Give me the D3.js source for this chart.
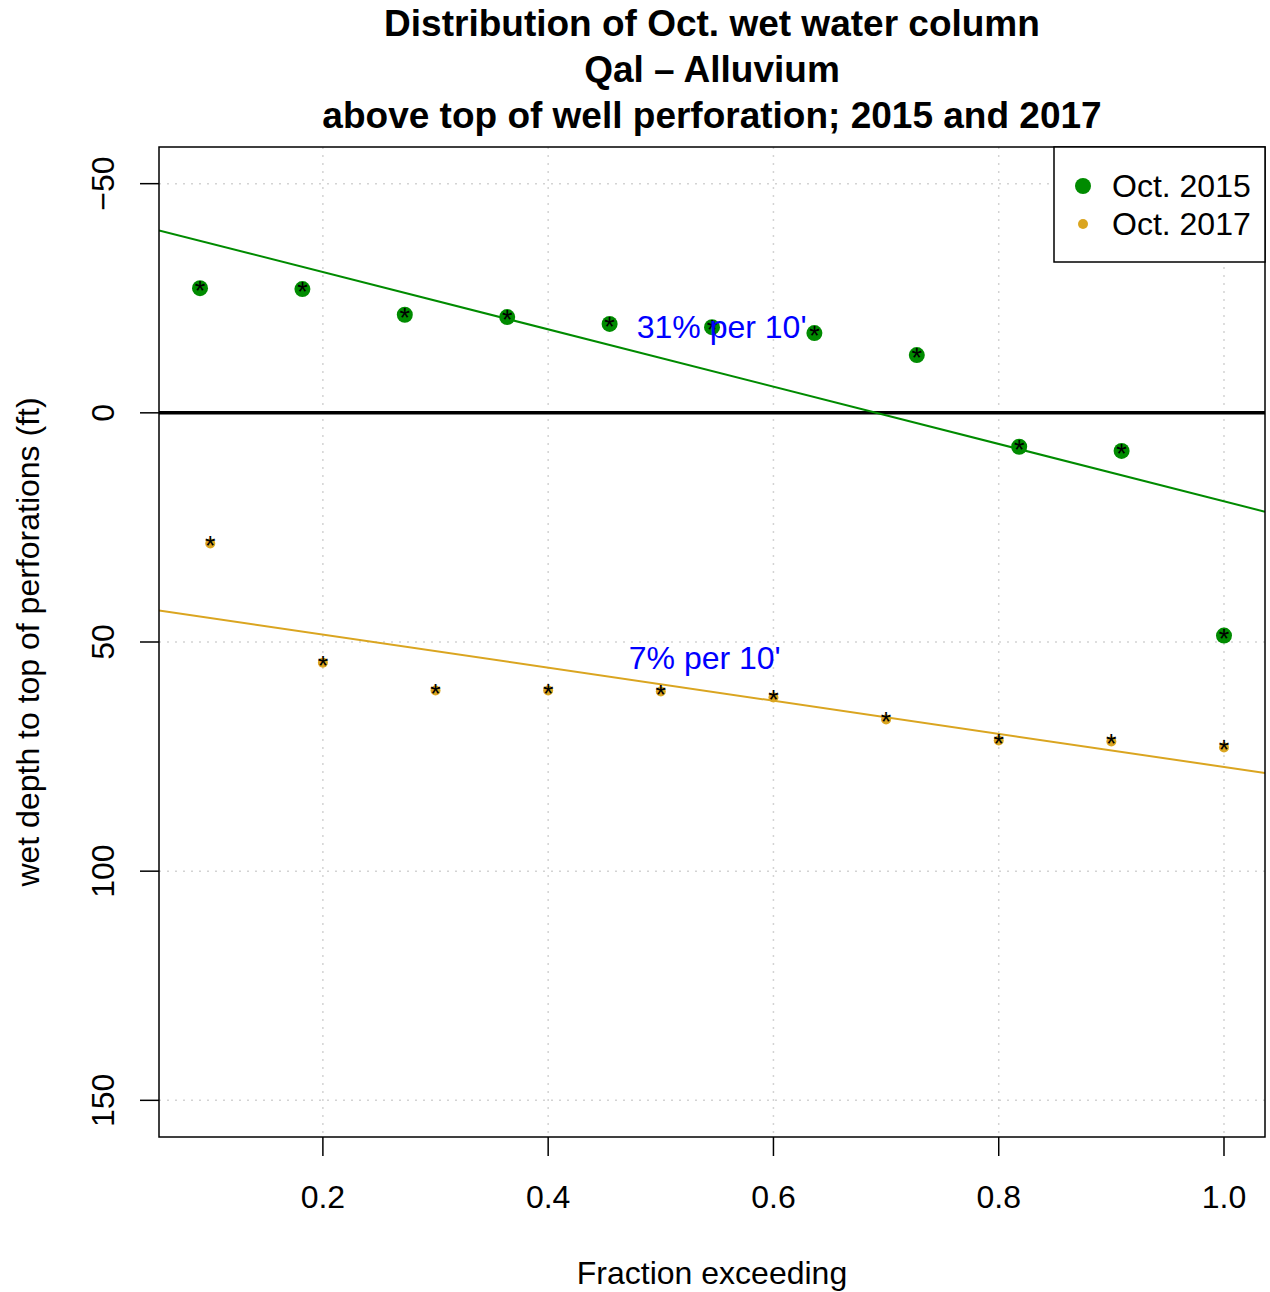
<!DOCTYPE html>
<html><head><meta charset="utf-8">
<script src="https://cdn.jsdelivr.net/npm/d3@7"></script>
<style>body{margin:0;background:#fff}svg{display:block}text{font-family:"Liberation Sans",Arial,sans-serif}</style>
</head><body>
<svg id="c" width="1270" height="1292"></svg>
<script>
const titleLines = ["Distribution of Oct. wet water column", "Qal \u2013 Alluvium", "above top of well perforation; 2015 and 2017"];
const x2015 = [1/11, 2/11, 3/11, 4/11, 5/11, 6/11, 7/11, 8/11, 9/11, 10/11, 1];
const y2015 = [-27.2, -27.0, -21.4, -20.9, -19.4, -18.7, -17.4, -12.6, 7.4, 8.3, 48.6];
const x2017 = [0.1, 0.2, 0.3, 0.4, 0.5, 0.6, 0.7, 0.8, 0.9, 1.0];
const y2017 = [28.5, 54.5, 60.6, 60.6, 60.8, 62.1, 66.9, 71.5, 71.7, 73.0];
const xTicks = [0.2, 0.4, 0.6, 0.8, 1.0];
const yTicks = [-50, 0, 50, 100, 150];
const legendLabels = ["Oct. 2015", "Oct. 2017"];
const fitLabels = [{t:"31% per 10'", x:0.554, y:-18.7}, {t:"7% per 10'", x:0.539, y:53.4}];
const colors = ["#008B00", "#DAA520"];

const svg = d3.select("#c");
const L = 159, R = 1265, T = 147, B = 1137;
const x = d3.scaleLinear().domain([0.0545, 1.0364]).range([L, R]);
const y = d3.scaleLinear().domain([-58, 158]).range([T, B]);

// grid
const g = svg.append("g");
g.selectAll(".gx").data(xTicks).join("line").attr("x1", d=>x(d)).attr("x2", d=>x(d)).attr("y1", T).attr("y2", B)
  .attr("stroke", "#d3d3d3").attr("stroke-width", 1.5).attr("stroke-dasharray", "2,6");
g.selectAll(".gy").data(yTicks).join("line").attr("y1", d=>y(d)).attr("y2", d=>y(d)).attr("x1", L).attr("x2", R)
  .attr("stroke", "#d3d3d3").attr("stroke-width", 1.5).attr("stroke-dasharray", "2,6");

// zero line
svg.append("line").attr("x1", L).attr("x2", R).attr("y1", y(0)).attr("y2", y(0)).attr("stroke", "#000").attr("stroke-width", 3.5);

// regression
function lm(xs, ys){
  const mx = d3.mean(xs), my = d3.mean(ys);
  let sxy = 0, sxx = 0;
  xs.forEach((v,i)=>{ sxy += (v-mx)*(ys[i]-my); sxx += (v-mx)*(v-mx); });
  const b = sxy/sxx; return {a: my - b*mx, b};
}
svg.append("defs").append("clipPath").attr("id","pc").append("rect").attr("x",L).attr("y",T).attr("width",R-L).attr("height",B-T);
[[x2015,y2015],[x2017,y2017]].forEach(([xs,ys],k)=>{
  const f = lm(xs,ys);
  const d0 = x.domain()[0], d1 = x.domain()[1];
  svg.append("line").attr("clip-path","url(#pc)")
    .attr("x1", x(d0)).attr("y1", y(f.a+f.b*d0)).attr("x2", x(d1)).attr("y2", y(f.a+f.b*d1))
    .attr("stroke", colors[k]).attr("stroke-width", 2);
});

// points
function pts(xs, ys, col, r){
  const d = xs.map((v,i)=>[v,ys[i]]);
  svg.append("g").selectAll("circle").data(d).join("circle").attr("cx", d=>x(d[0])).attr("cy", d=>y(d[1])).attr("r", r).attr("fill", col);
  svg.append("g").selectAll("text").data(d).join("text").attr("x", d=>x(d[0])).attr("y", d=>y(d[1])+12)
    .attr("text-anchor","middle").attr("font-size", 27).attr("fill","#000").text("*");
}
pts(x2015, y2015, colors[0], 8);
pts(x2017, y2017, colors[1], 5);

// fit labels
svg.append("g").selectAll("text").data(fitLabels).join("text").attr("x", d=>x(d.x)).attr("y", d=>y(d.y)+11)
  .attr("text-anchor","middle").attr("font-size", 32).attr("fill","#0000FF").text(d=>d.t);

// box
svg.append("rect").attr("x", L).attr("y", T).attr("width", R-L).attr("height", B-T).attr("fill","none").attr("stroke","#000").attr("stroke-width",1.5);

// axes
const ax = svg.append("g");
ax.selectAll(".tx").data(xTicks).join("line").attr("x1", d=>x(d)).attr("x2", d=>x(d)).attr("y1", B).attr("y2", B+19).attr("stroke","#000").attr("stroke-width",1.5);
ax.selectAll(".lx").data(xTicks).join("text").attr("x", d=>x(d)).attr("y", 1208).attr("text-anchor","middle").attr("font-size",32).text(d=>d.toFixed(1));
ax.selectAll(".ty").data(yTicks).join("line").attr("y1", d=>y(d)).attr("y2", d=>y(d)).attr("x1", L-19).attr("x2", L).attr("stroke","#000").attr("stroke-width",1.5);
ax.selectAll(".ly").data(yTicks).join("text").attr("transform", d=>`translate(114,${y(d)}) rotate(-90)`).attr("text-anchor","middle").attr("font-size",32)
  .text(d=>d<0 ? "\u2212"+Math.abs(d) : d);

svg.append("text").attr("x", (L+R)/2).attr("y", 1284).attr("text-anchor","middle").attr("font-size",32).text("Fraction exceeding");
svg.append("text").attr("transform", `translate(39,${(T+B)/2}) rotate(-90)`).attr("text-anchor","middle").attr("font-size",32).text("wet depth to top of perforations  (ft)");

// title
svg.append("g").selectAll("text").data(titleLines).join("text").attr("x", (L+R)/2).attr("y", (d,i)=>36+i*46)
  .attr("text-anchor","middle").attr("font-size",37).attr("font-weight","bold").text(d=>d);

// legend
const lg = svg.append("g");
lg.append("rect").attr("x",1054).attr("y",T).attr("width",R-1054).attr("height",115).attr("fill","#fff").attr("stroke","#000").attr("stroke-width",1.5);
lg.selectAll("circle").data(legendLabels).join("circle").attr("cx",1083).attr("cy",(d,i)=>186+i*38).attr("r",(d,i)=>i?5:8).attr("fill",(d,i)=>colors[i]);
lg.selectAll("text").data(legendLabels).join("text").attr("x",1112).attr("y",(d,i)=>197+i*38).attr("font-size",32).text(d=>d);
</script>
</body></html>
